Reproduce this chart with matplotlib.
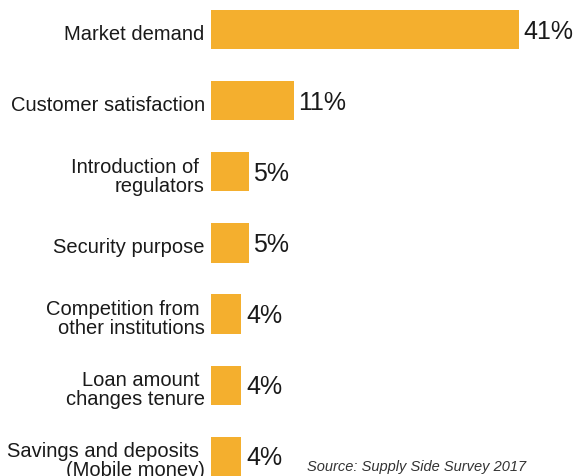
import matplotlib
matplotlib.use("Agg")
import matplotlib.pyplot as plt
import matplotlib.transforms as mtransforms

# survey data
categories = [
    "Market demand",
    "Customer satisfaction",
    "Introduction of \nregulators",
    "Security purpose",
    "Competition from \nother institutions",
    "Loan amount \nchanges tenure",
    "Savings and deposits \n(Mobile money)",
]
values = [41, 11, 5, 5, 4, 4, 4]
value_labels = ["41%", "11%", "5%", "5%", "4%", "4%", "4%"]
source = "Source: Supply Side Survey 2017"

plt.rcParams["font.family"] = ["Liberation Sans", "DejaVu Sans"]

fig = plt.figure(figsize=(5.78, 4.76), dpi=100)
ax = fig.add_axes([211 / 578, 0, 367 / 578, 1])

pos = list(range(len(categories)))
ax.barh(pos, values, height=0.55, color="#F4AF2E")

for p, v, lab in zip(pos, values, value_labels):
    ax.annotate(lab, (v, p), xytext=(3.5, -1.5), textcoords="offset points",
                va="center", ha="left", fontsize=18, color="#1a1a1a")

ax.set_yticks(pos)
ax.set_yticklabels(categories, fontsize=14.5, color="#1a1a1a", linespacing=1.0)
ax.tick_params(axis="y", length=0, pad=4.5)
# nudge the category labels down a little
shift = mtransforms.ScaledTranslation(0, -2 / 72, fig.dpi_scale_trans)
for lbl in ax.get_yticklabels():
    lbl.set_transform(lbl.get_transform() + shift)
ax.set_xticks([])
ax.set_xlim(0, 48.9)
ax.set_ylim(6.28, -0.42)
for s in ax.spines.values():
    s.set_visible(False)

fig.text(307 / 578, 1 - 460 / 476, source, fontsize=10.5, style="italic",
         color="#333333", va="top", ha="left")

fig.savefig("out.png", dpi=100)
